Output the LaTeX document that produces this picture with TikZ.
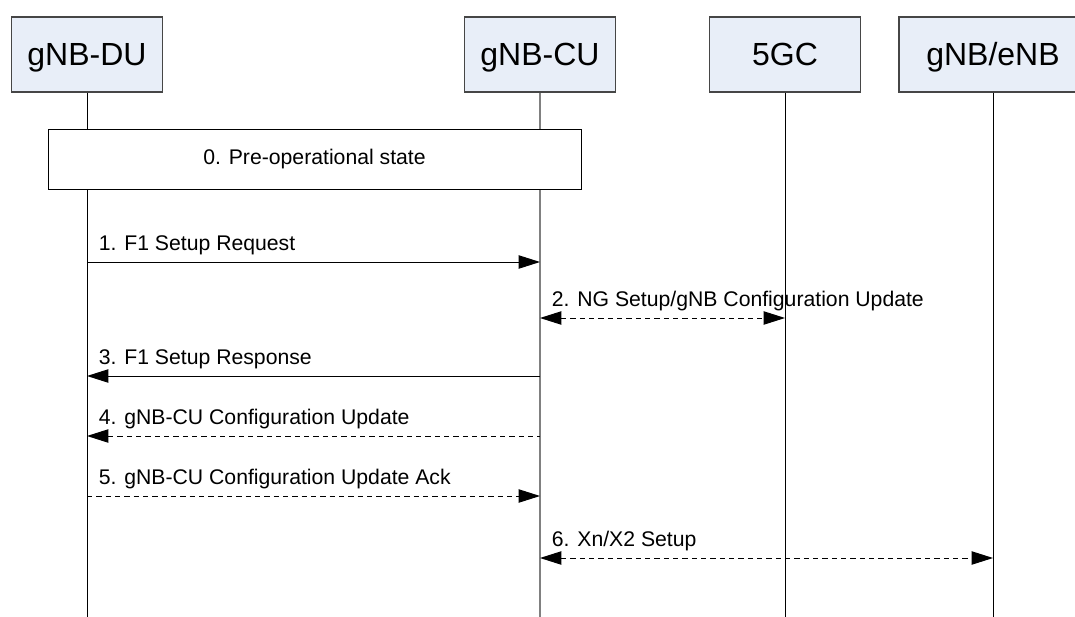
\documentclass[tikz,border=0pt]{standalone}
\usepackage{fontspec}
\setmainfont{Liberation Sans}
\usepackage{tikz}
\usetikzlibrary{arrows.meta,positioning}
\definecolor{hdrfill}{RGB}{232, 238, 248}
\definecolor{hdrline}{RGB}{70, 70, 70}
\definecolor{culine}{RGB}{128, 128, 128}
\tikzstyle{entity} = [rectangle, draw=hdrline, line width=0.9pt, fill=hdrfill, text=black, font=\fontsize{24}{28}\selectfont, text height=17.5pt, text depth=1.5pt, minimum width=113.25pt, minimum height=56.25pt, inner sep=0pt]
\tikzstyle{phase}  = [rectangle, draw=black, line width=0.75pt, fill=white, font=\fontsize{15.9}{18}\selectfont, minimum width=399.75pt, minimum height=44.25pt]
\tikzstyle{life}   = [draw, line width=0.75pt]
\tikzstyle{culife} = [draw=culine, line width=1.6pt]
\tikzstyle{msg}    = [draw, line width=0.75pt, -{Triangle[length=16pt, width=10pt]}]
\tikzstyle{rmsg}   = [draw, line width=0.75pt, {Triangle[length=16pt, width=10pt]}-]
\tikzstyle{dmsg}   = [msg, dash pattern=on 4pt off 3pt]
\tikzstyle{drmsg}  = [rmsg, dash pattern=on 4pt off 3pt]
\tikzstyle{bmsg}   = [dmsg, {Triangle[length=16pt, width=10pt]}-{Triangle[length=16pt, width=10pt]}]
\tikzstyle{lbl}    = [font=\fontsize{15.9}{18}\selectfont, inner sep=0pt, anchor=base west, xshift=8.5pt, yshift=8.5pt]

\begin{document}
\begin{tikzpicture}[x=0.75pt, y=-0.75pt]
\clip (0,0) rectangle (1075,617);

% entities =============================
\node[entity] (du) at (87,54.5) {gNB-DU};
\node[entity] (cu) at (540,54.5) {gNB-CU};
\node[entity] (core) at (785,54.5) {5GC};
\node[entity, minimum width=141pt] (enb) at (993,54.5) {gNB/eNB};

% lifelines
\coordinate (bottom) at (0,617);
\path[life] (du.south) -- (du.south |- bottom);
\path[culife] (cu.south) -- (cu.south |- bottom);
\path[life] (core.south) -- (core.south |- bottom);
\path[life] (enb.south) -- (enb.south |- bottom);

% pre-operational state
\node[phase] (pre) at (314.5,159.5) {0. Pre-operational state};

% messages
\coordinate (m1) at (0,262);
\coordinate (m2) at (0,318);
\coordinate (m3) at (0,376);
\coordinate (m4) at (0,436);
\coordinate (m5) at (0,496);
\coordinate (m6) at (0,558);

\path[msg] (du |- m1) -- (cu |- m1) node[lbl, pos=0] {1. F1 Setup Request};
\path[bmsg] (cu |- m2) -- (core |- m2) node[lbl, pos=0] {2. NG Setup/gNB Configuration Update};
\path[rmsg] (du |- m3) -- (cu |- m3) node[lbl, pos=0] {3. F1 Setup Response};
\path[drmsg] (du |- m4) -- (cu |- m4) node[lbl, pos=0] {4. gNB-CU Configuration Update};
\path[dmsg] (du |- m5) -- (cu |- m5) node[lbl, pos=0] {5. gNB-CU Configuration Update Ack};
\path[bmsg] (cu |- m6) -- (enb |- m6) node[lbl, pos=0] {6. Xn/X2 Setup};

\end{tikzpicture}
\end{document}
